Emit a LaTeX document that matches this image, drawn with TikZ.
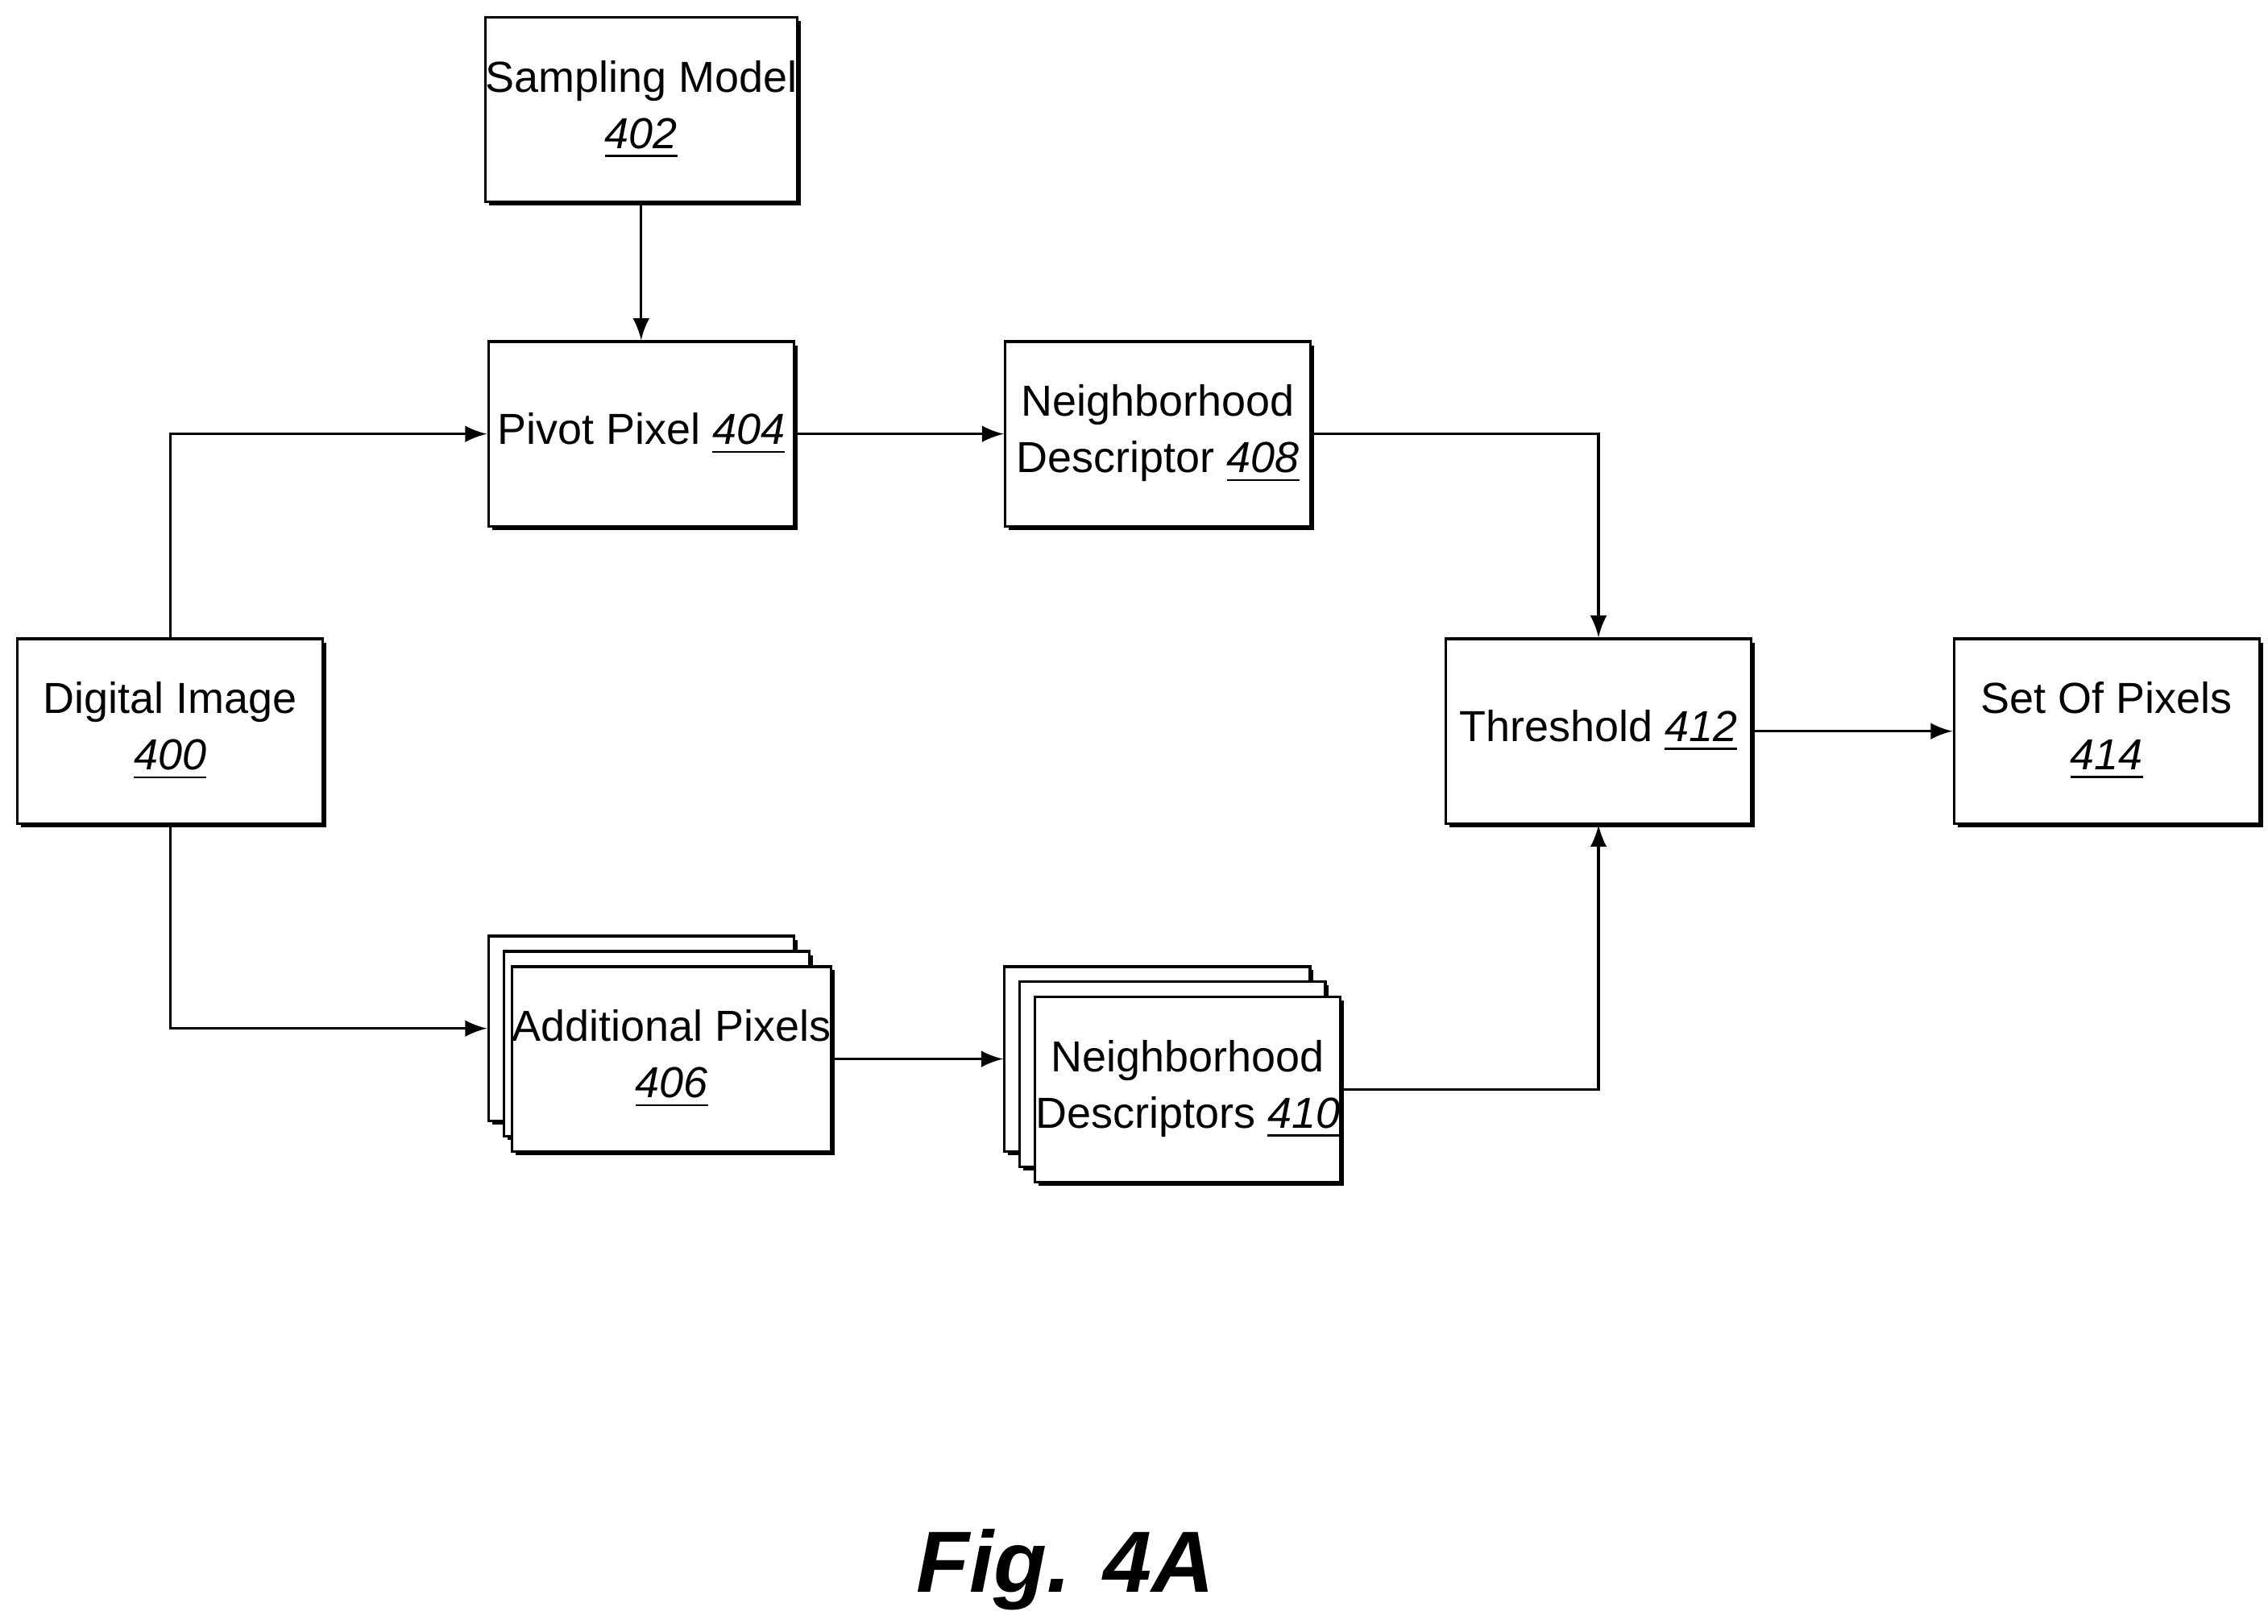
\documentclass[tikz,border=0pt]{standalone}
\usepackage{fontspec}
\setmainfont{Liberation Sans}
\usetikzlibrary{arrows, calc, shadows}

\begin{document}
\begin{tikzpicture}[x=0.01cm,y=-0.01cm]
\tikzstyle{every node}+=[font=\fontsize{8.5}{11}\selectfont, align=center]
\tikzstyle{blk}=[draw=black, fill=white, line width=0.5pt, minimum width=2.1cm, minimum height=1.27cm, inner sep=0pt,
  drop shadow={shadow xshift=0.025cm, shadow yshift=-0.025cm, fill=black, opacity=1}]
\tikzstyle{arr}=[-latex, line width=0.5pt]
\useasboundingbox (0,0) rectangle (1560,1117);
\node [blk] (smodel) at (441,75.5) {Sampling Model\\\underline{\textit{402}}};
\node [blk] (pivot) at (441,298.5) {Pivot Pixel \underline{\textit{404}}};
\node [blk] (ndesc) at (796.5,298.5) {Neighborhood\\Descriptor \underline{\textit{408}}};
\node [blk] (dimage) at (117,503) {Digital Image\\\underline{\textit{400}}};
\node [blk] (thresh) at (1099.5,503) {Threshold \underline{\textit{412}}};
\node [blk] (pset) at (1449,503) {Set Of Pixels\\\underline{\textit{414}}};
% stacked boxes
\node [blk] (addpC) at (441,707.5) {};
\node [blk] (addpB) at (451.5,718) {};
\node [blk] (addpA) at (462,728.5) {Additional Pixels\\\underline{\textit{406}}};
\node [blk] (ndescsC) at (796,728.5) {};
\node [blk] (ndescsB) at (806.5,739) {};
\node [blk] (ndescsA) at (817,749.5) {Neighborhood\\Descriptors \underline{\textit{410}}};
\node (fig) at (733,1080) {\fontsize{17}{20}\selectfont\bfseries\itshape Fig. 4A};
% connectors
\draw [arr] (smodel) -- (pivot);
\draw [arr] (dimage.north) |- (pivot.west);
\draw [arr] (pivot) -- (ndesc);
\draw [arr] (ndesc.east) -| (thresh.north);
\draw [arr] (dimage.south) |- (addpC.west);
\draw [arr] (addpA.east) -- (addpA.east -| ndescsC.west);
\draw [arr] (ndescsA.east) -| (thresh.south);
\draw [arr] (thresh) -- (pset);
\end{tikzpicture}
\end{document}
